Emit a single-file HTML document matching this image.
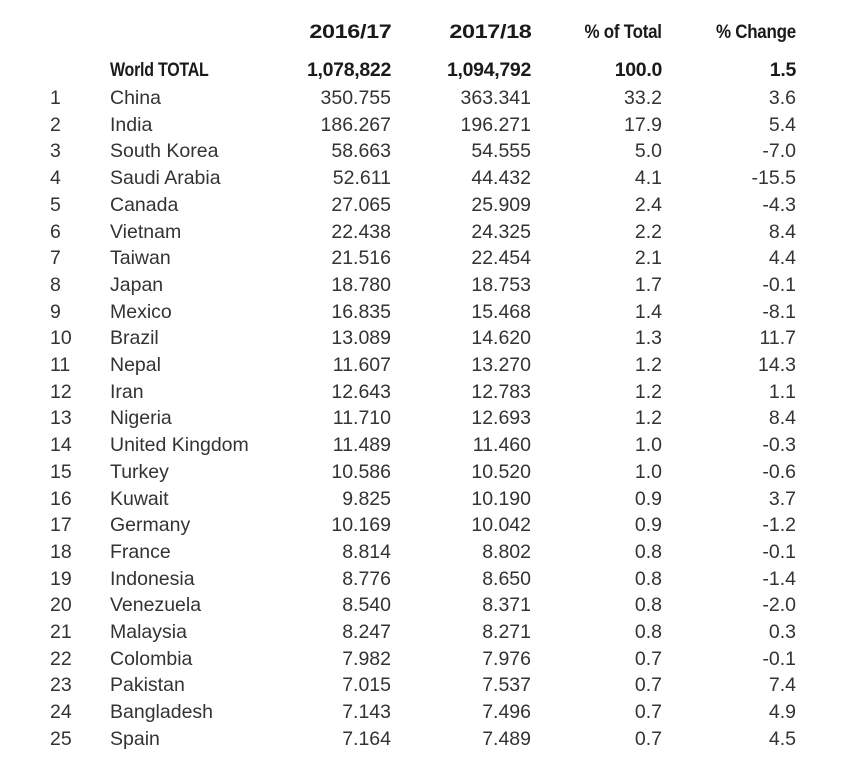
<!DOCTYPE html><html><head><meta charset="utf-8"><style>
body{margin:0;width:858px;height:762px;background:#fff;overflow:hidden;font-family:"Liberation Sans Narrow","Liberation Sans",sans-serif;color:#333;font-size:19.5px}
.r{position:absolute;left:0;width:858px;height:24px;line-height:24px}
.r span{position:absolute;top:0;white-space:nowrap}
.a{left:50px}.b{left:110px}
.c{right:467px}.d{right:327px}.e{right:196px}.f{right:62px}
.h{font-weight:bold;color:#1a1a1a;letter-spacing:-0.3px}
.sq span{transform:scaleX(0.87);transform-origin:right center}
.sq span.y{transform:scaleX(1.2)}
.sl{transform:scaleX(0.82);transform-origin:left center}
</style></head><body>
<div class="r h sq" style="top:20px"><span class="c y">2016/17</span><span class="d y">2017/18</span><span class="e">% of Total</span><span class="f">% Change</span></div>
<div class="r h" style="top:58px"><span class="b sl">World TOTAL</span><span class="c">1,078,822</span><span class="d">1,094,792</span><span class="e">100.0</span><span class="f">1.5</span></div>
<div id="rows"></div>
<script>
var d=[["China","350.755","363.341","33.2","3.6"],["India","186.267","196.271","17.9","5.4"],["South Korea","58.663","54.555","5.0","-7.0"],["Saudi Arabia","52.611","44.432","4.1","-15.5"],["Canada","27.065","25.909","2.4","-4.3"],["Vietnam","22.438","24.325","2.2","8.4"],["Taiwan","21.516","22.454","2.1","4.4"],["Japan","18.780","18.753","1.7","-0.1"],["Mexico","16.835","15.468","1.4","-8.1"],["Brazil","13.089","14.620","1.3","11.7"],["Nepal","11.607","13.270","1.2","14.3"],["Iran","12.643","12.783","1.2","1.1"],["Nigeria","11.710","12.693","1.2","8.4"],["United Kingdom","11.489","11.460","1.0","-0.3"],["Turkey","10.586","10.520","1.0","-0.6"],["Kuwait","9.825","10.190","0.9","3.7"],["Germany","10.169","10.042","0.9","-1.2"],["France","8.814","8.802","0.8","-0.1"],["Indonesia","8.776","8.650","0.8","-1.4"],["Venezuela","8.540","8.371","0.8","-2.0"],["Malaysia","8.247","8.271","0.8","0.3"],["Colombia","7.982","7.976","0.7","-0.1"],["Pakistan","7.015","7.537","0.7","7.4"],["Bangladesh","7.143","7.496","0.7","4.9"],["Spain","7.164","7.489","0.7","4.5"]];
var h="";d.forEach(function(x,i){var t=86+i*26.7;h+='<div class="r" style="top:'+t.toFixed(1)+'px"><span class="a">'+(i+1)+'</span><span class="b">'+x[0]+'</span><span class="c">'+x[1]+'</span><span class="d">'+x[2]+'</span><span class="e">'+x[3]+'</span><span class="f">'+x[4]+'</span></div>';});
document.getElementById("rows").innerHTML=h;
</script>
</body></html>
